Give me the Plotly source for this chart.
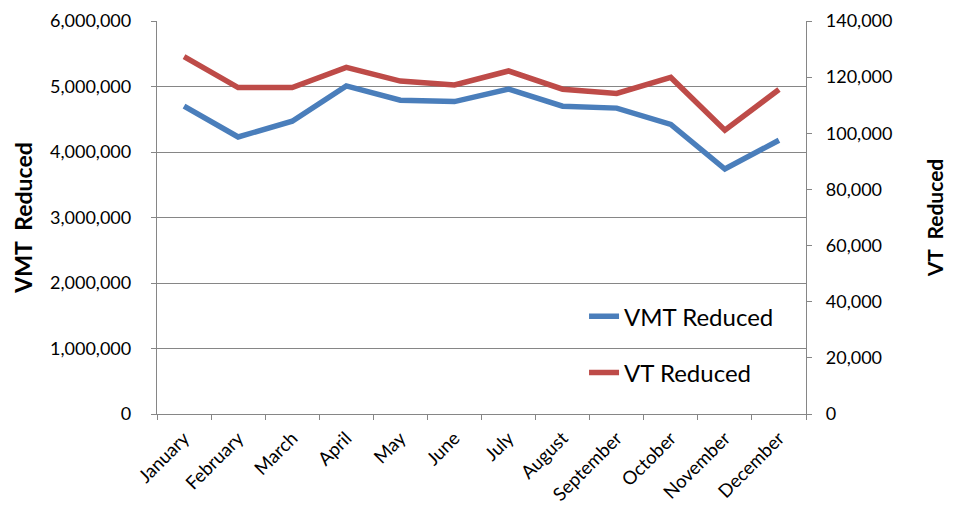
import plotly.graph_objects as go

months = ["January", "February", "March", "April", "May", "June", "July",
          "August", "September", "October", "November", "December"]
vmt_reduced = [4700000, 4230000, 4470000, 5010000, 4790000, 4770000,
               4960000, 4700000, 4670000, 4420000, 3740000, 4180000]
vt_reduced = [127300, 116300, 116300, 123500, 118600, 117200,
              122200, 115700, 114200, 119900, 101100, 115600]

left_ticks = [0, 1000000, 2000000, 3000000, 4000000, 5000000, 6000000]
right_ticks = [0, 20000, 40000, 60000, 80000, 100000, 120000, 140000]

FONT = "Lato"
GRID = "#868686"

fig = go.Figure()
fig.add_trace(go.Scatter(x=months, y=vmt_reduced, name="VMT Reduced", mode="lines",
                         line=dict(color="#4A7EBB", width=5.5), legendgroup="a", yaxis="y"))
fig.add_trace(go.Scatter(x=months, y=vt_reduced, name="VT Reduced", mode="lines",
                         line=dict(color="#BE4B48", width=5.5), legendgroup="b", yaxis="y2"))

fig.update_layout(
    width=959, height=511,
    margin=dict(l=157, r=153, t=21, b=97),
    paper_bgcolor="white", plot_bgcolor="white",
    font=dict(family=FONT, color="#000000"),
    showlegend=True,
    legend=dict(x=0.658, y=0.305, xanchor="left", yanchor="top",
                font=dict(size=24, family=FONT), bgcolor="rgba(0,0,0,0)",
                tracegroupgap=22, itemwidth=30),
    xaxis=dict(type="category", range=[-0.5, 11.5], tickangle=-45,
               tickfont=dict(size=18.5), showgrid=False, showline=True,
               linecolor=GRID, linewidth=1.3, ticks="outside", tickson="boundaries",
               ticklen=5, tickcolor=GRID, automargin=False, ticklabelstandoff=5),
    yaxis=dict(range=[0, 6000000], tickvals=left_ticks,
               ticktext=[f"{v:,}" for v in left_ticks], tickfont=dict(size=18),
               showgrid=True, gridcolor=GRID, gridwidth=1.3, showline=True,
               linecolor=GRID, linewidth=1.3, ticks="outside", ticklen=5,
               ticklabelstandoff=16,
               tickcolor=GRID, zeroline=False, automargin=False,
               title=dict(text="<b>VMT\u00a0\u00a0Reduced</b>", font=dict(size=23), standoff=10)),
    yaxis2=dict(range=[0, 140000], tickvals=right_ticks,
                ticktext=[f"{v:,}" for v in right_ticks], tickfont=dict(size=18),
                overlaying="y", side="right", showgrid=False, showline=True,
                linecolor=GRID, linewidth=1.3, ticks="outside", ticklen=5,
                ticklabelstandoff=10,
                tickcolor=GRID, zeroline=False, automargin=False,
                title=dict(text="<b>VT\u00a0\u00a0Reduced</b>", font=dict(size=21), standoff=36)),
)

fig.write_html("out.html", config={"displayModeBar": False},
               post_script="document.body.style.margin='0';")
